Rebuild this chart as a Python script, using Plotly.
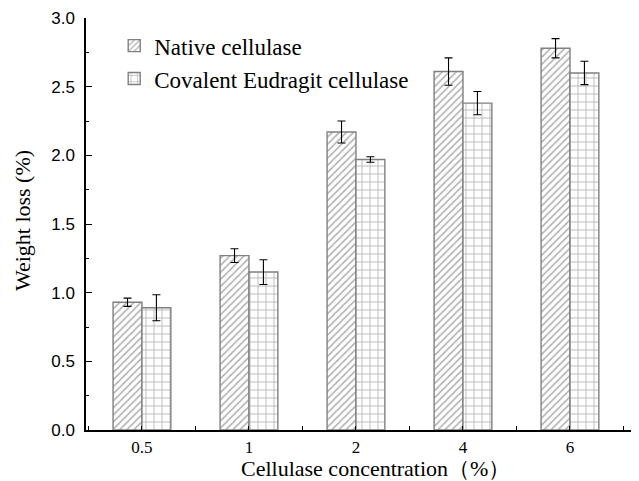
import plotly.graph_objects as go

categories = ["0.5", "1", "2", "4", "6"]
native = [0.93, 1.27, 2.17, 2.61, 2.78]
native_err = [0.03, 0.05, 0.08, 0.10, 0.07]
covalent = [0.89, 1.15, 1.97, 2.38, 2.60]
covalent_err = [0.095, 0.09, 0.02, 0.085, 0.085]
yticks = [0.0, 0.5, 1.0, 1.5, 2.0, 2.5, 3.0]

xpos = list(range(len(categories)))
serif = "Liberation Serif, Times New Roman, serif"
sans = "Liberation Sans, Arial, sans-serif"

fig = go.Figure()
fig.add_trace(go.Bar(
    x=xpos, y=native, name="Native cellulase",
    marker=dict(color="white", line=dict(color="#808080", width=1.4),
                pattern=dict(shape="/", fgcolor="#5f5f5f", bgcolor="white", size=5, solidity=0.3)),
    error_y=dict(type="data", array=native_err, color="black", thickness=1.1, width=4),
))
fig.add_trace(go.Bar(
    x=xpos, y=covalent, name="Covalent Eudragit cellulase",
    marker=dict(color="white", line=dict(color="#808080", width=1.4),
                pattern=dict(shape="+", fgcolor="#707070", bgcolor="white", size=8, solidity=0.22)),
    error_y=dict(type="data", array=covalent_err, color="black", thickness=1.1, width=4),
))

fig.update_layout(
    width=631, height=473,
    margin=dict(l=78, r=0, t=10, b=51),
    paper_bgcolor="white", plot_bgcolor="white",
    barmode="group", bargap=0.46, bargroupgap=0,
    showlegend=True,
    legend=dict(x=0.051, y=0.985, xanchor="left", yanchor="top",
                font=dict(family=serif, size=23, color="black"),
                bgcolor="rgba(0,0,0,0)", tracegroupgap=0),
    xaxis=dict(
        range=[-0.523, 4.645], automargin=False,
        tickmode="array", tickvals=xpos, ticktext=categories,
        ticks="inside", ticklen=4, tickcolor="black",
        minor=dict(ticks="inside", dtick=1, tick0=0.5, ticklen=4, tickcolor="black"),
        showline=True, linecolor="black", linewidth=1.5,
        showgrid=False, zeroline=False,
        tickfont=dict(family=serif, size=17, color="black"),
        ticklabelstandoff=1,
    ),
    yaxis=dict(
        range=[0, 3.0], automargin=False,
        tickmode="array", tickvals=yticks, ticktext=[f"{v:.1f}" for v in yticks],
        ticks="inside", ticklen=6, tickcolor="black",
        minor=dict(ticks="inside", dtick=0.25, tick0=0, ticklen=3, tickcolor="black"),
        showline=True, linecolor="black", linewidth=1.5,
        showgrid=False, zeroline=False,
        tickfont=dict(family=sans, size=17, color="black"),
        ticklabelstandoff=6,
    ),
    annotations=[
        dict(text="Cellulase concentration\uff08%\uff09", xref="paper", yref="paper",
             x=0.524, y=0, xanchor="center", yanchor="middle", yshift=-38, showarrow=False,
             font=dict(family=serif, size=22, color="black")),
        dict(text="Weight loss (%)", xref="paper", yref="paper",
             x=0, y=0.507, xanchor="center", yanchor="middle", xshift=-64, textangle=-90,
             showarrow=False, font=dict(family=serif, size=22, color="black")),
    ],
)

fig.write_html("out.html")
